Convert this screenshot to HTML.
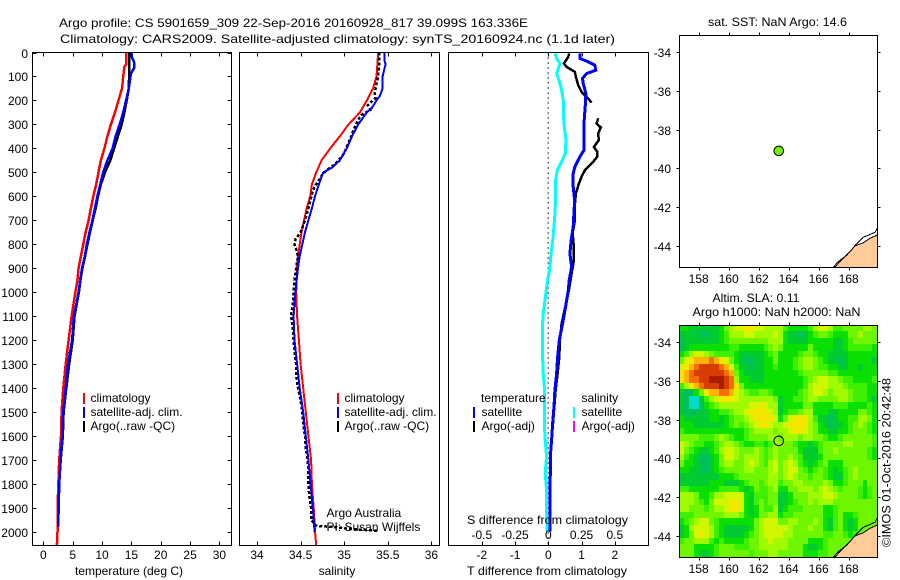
<!DOCTYPE html>
<html lang="en">
<head>
<meta charset="utf-8">
<title>Argo profile chart</title>
<style>
html,body{margin:0;padding:0;background:#fff;}
svg{display:block;}
text{font-family:"Liberation Sans",sans-serif;font-size:12px;fill:#000;}
.ln{fill:none;shape-rendering:crispEdges;stroke-linejoin:miter;}
.fr{fill:none;stroke:#000;stroke-width:1;shape-rendering:crispEdges;}
.bar{stroke-width:2;shape-rendering:crispEdges;}
</style>
</head>
<body>
<svg id="chart" xmlns="http://www.w3.org/2000/svg" width="900" height="580" viewBox="0 0 900 580">
  <rect x="0" y="0" width="900" height="580" fill="#fff"/>
  <text x="59" y="27" textLength="469" lengthAdjust="spacingAndGlyphs">Argo profile: CS 5901659_309 22-Sep-2016 20160928_817 39.099S 163.336E</text>
  <text x="60" y="43" textLength="555" lengthAdjust="spacingAndGlyphs">Climatology: CARS2009. Satellite-adjusted climatology: synTS_20160924.nc (1.1d later)</text>

  <g id="heat"></g>
  <g id="p1"></g>
  <g id="p2"></g>
  <g id="p3"></g>
  <g id="m1"></g>
  <g id="m2"></g>

  <g>
    <line class="bar" x1="84" x2="84" y1="393" y2="404" stroke="#f00"/>
    <text x="90.5" y="402">climatology</text>
    <line class="bar" x1="84" x2="84" y1="407" y2="418" stroke="#00f"/>
    <text x="90.5" y="416">satellite-adj. clim.</text>
    <line class="bar" x1="84" x2="84" y1="421" y2="432" stroke="#000"/>
    <text x="90.5" y="430">Argo(..raw -QC)</text>
  </g>
  <g>
    <line class="bar" x1="338" x2="338" y1="393" y2="404" stroke="#f00"/>
    <text x="344.5" y="402">climatology</text>
    <line class="bar" x1="338" x2="338" y1="407" y2="418" stroke="#00f"/>
    <text x="344.5" y="416">satellite-adj. clim.</text>
    <line class="bar" x1="338" x2="338" y1="421" y2="432" stroke="#000"/>
    <text x="344.5" y="430">Argo(..raw -QC)</text>
    <text x="326.5" y="517">Argo Australia</text>
    <text x="326.5" y="531">PI: Susan Wijffels</text>
  </g>
  <g>
    <text x="481" y="402">temperature</text>
    <line class="bar" x1="474" x2="474" y1="407" y2="418" stroke="#00f"/>
    <text x="481.5" y="416">satellite</text>
    <line class="bar" x1="474" x2="474" y1="421" y2="432" stroke="#000"/>
    <text x="481.5" y="430">Argo(-adj)</text>
    <text x="581.5" y="402">salinity</text>
    <line class="bar" x1="574" x2="574" y1="407" y2="418" stroke="#0ff"/>
    <text x="581.5" y="416">satellite</text>
    <line class="bar" x1="574" x2="574" y1="421" y2="432" stroke="#f0f"/>
    <text x="581.5" y="430">Argo(-adj)</text>
    <text x="467" y="524" textLength="161" lengthAdjust="spacingAndGlyphs">S difference from climatology</text>
  </g>

  <text x="129" y="575" text-anchor="middle">temperature (deg C)</text>
  <text x="337" y="575" text-anchor="middle">salinity</text>
  <text x="467" y="575" textLength="160" lengthAdjust="spacingAndGlyphs">T difference from climatology</text>
  <text x="708" y="26" textLength="139" lengthAdjust="spacingAndGlyphs">sat. SST: NaN Argo: 14.6</text>
  <text x="712.5" y="302" textLength="87" lengthAdjust="spacingAndGlyphs">Altim. SLA: 0.11</text>
  <text x="692.5" y="316" textLength="168" lengthAdjust="spacingAndGlyphs">Argo h1000: NaN h2000: NaN</text>
  <text transform="translate(890.5,547) rotate(-90)" textLength="169" lengthAdjust="spacingAndGlyphs">©IMOS 01-Oct-2016 20:42:48</text>
</svg>

<script>
// ---- Profile data ----
const depthTicks = [0,100,200,300,400,500,600,700,800,900,1000,1100,1200,1300,1400,1500,1600,1700,1800,1900,2000];
const tempTicks = [0,5,10,15,20,25,30];
const salTicks = [34,34.5,35,35.5,36];
const salTickLabels = ['34','34.5','35','35.5','36'];
const tDiffTicks = [-2,-1,0,1,2];
const sDiffTicks = [-0.5,-0.25,0,0.25,0.5];
const sDiffTickLabels = ['-0.5','-0.25','0','0.25','0.5'];

const climTDepth = [0,50,60,100,150,200,250,300,350,400,450,500,550,600,650,700,750,800,850,900,950,1000,1100,1200,1300,1400,1500,1600,1700,1800,1900,2000,2057];
const climT = [14.1,14.1,13.8,13.6,13.4,12.8,12.2,11.5,10.9,10.4,9.8,9.4,9.0,8.5,8.1,7.7,7.2,6.8,6.4,6.0,5.8,5.45,4.8,4.3,3.8,3.4,3.1,3.0,2.7,2.55,2.4,2.4,2.3];
const satTDepth = [0,20,40,65,90,150,200,250,300,350,400,450,500,550,600,650,700,750,800,850,900,950,1000,1100,1200,1300,1400,1500,1600,1700,1800,1900,1980];
const satT = [15.0,15.1,15.45,15.45,14.9,14.55,14.1,13.6,13.0,12.3,11.8,10.9,10.2,9.7,9.2,8.8,8.35,7.85,7.4,7.05,6.6,6.25,6.0,5.2,4.9,4.2,3.8,3.4,3.2,2.95,2.7,2.6,2.5];
const argoTDepth = [0,100,150,200,250,300,350,400,450,500,550,600,650,700,750,800,850,900,950,1000,1100,1200,1300,1400,1500,1600,1700,1800,1900,1980];
const argoT = [14.65,14.6,14.55,14.2,13.8,13.35,12.7,12.05,11.4,10.5,9.8,9.3,8.9,8.4,7.95,7.5,7.1,6.65,6.3,6.05,5.3,5.0,4.4,3.9,3.45,3.3,2.95,2.7,2.55,2.5];

const climSDepth = [0,100,150,200,250,300,350,400,450,500,550,600,650,700,750,800,850,900,1000,1100,1200,1300,1400,1500,1600,1700,1800,1900,2000,2057];
const climS = [35.39,35.37,35.33,35.26,35.18,35.05,34.95,34.84,34.74,34.68,34.63,34.61,34.57,34.54,34.51,34.49,34.47,34.46,34.45,34.46,34.48,34.50,34.53,34.56,34.59,34.62,34.63,34.65,34.665,34.68];
const satSDepth = [0,30,50,70,100,150,180,200,230,250,300,350,400,450,480,500,550,600,650,700,750,800,850,900,1000,1100,1200,1300,1400,1500,1600,1700,1800,1900,2000];
const satS = [35.46,35.46,35.475,35.46,35.44,35.44,35.41,35.37,35.32,35.26,35.16,35.09,35.03,34.95,34.86,34.76,34.71,34.665,34.63,34.59,34.55,34.52,34.49,34.47,34.44,34.42,34.43,34.46,34.49,34.53,34.56,34.59,34.615,34.64,34.66];
const argoSDepth = [0,50,100,130,170,190,220,240,260,280,330,350,420,440,470,490,510,560,590,620,650,700,750,780,800,820,850,900,950,1000,1050,1100,1150,1200,1250,1300,1350,1400,1450,1500,1550,1600,1650,1700,1750,1800,1850,1900,1950,1975,1980,1985,1990,1995];
const argoS = [35.40,35.40,35.39,35.37,35.35,35.36,35.27,35.30,35.20,35.16,35.10,35.08,35.0,34.96,34.88,34.80,34.75,34.66,34.63,34.61,34.59,34.55,34.50,34.44,34.43,34.45,34.47,34.45,34.43,34.42,34.41,34.39,34.41,34.42,34.43,34.45,34.45,34.47,34.50,34.52,34.53,34.55,34.56,34.58,34.59,34.59,34.60,34.62,34.62,34.68,34.9,35.0,35.15,35.38];

const diffSatTDepth = [4,25,39,53,74,88,108,129,171,227,282,366,408,435,477,505,560,616,672,727,783,839,894,950,992,1061,1131,1200,1270,1339,1409,1478,1548,1617,1687,1756,1826,1895,1999];
const diffSatT = [0.95,0.95,1.2,1.4,1.43,1.15,1.03,1.05,1.13,1.11,1.08,1.07,1.07,0.95,0.8,0.75,0.75,0.79,0.77,0.75,0.69,0.65,0.70,0.63,0.6,0.52,0.43,0.33,0.28,0.25,0.2,0.17,0.13,0.1,0.06,0.06,0.05,0.05,0.05];
const diffArgoTDepth = [4,18,46,60,81,102,136,164,178,192,209,null,275,296,313,338,366,394,414,435,456,491,519,547,588,644,700,755,811,866,922,992,1131,1200,1270,1339,1409,1548,1617,1687,1999];
const diffArgoT = [0.63,0.6,0.47,0.55,0.8,0.83,0.9,1.0,1.1,1.2,1.3,null,1.5,1.45,1.58,1.5,1.52,1.37,1.47,1.47,1.35,1.1,1.0,0.92,0.83,0.79,0.8,0.73,0.77,0.77,0.7,0.62,0.4,0.35,0.33,0.28,0.22,0.14,0.1,0.07,0.05];
const diffSatSDepth = [4,25,46,67,88,108,143,199,255,310,366,421,456,491,533,616,672,727,783,839,894,950,989,1033,1089,1131,1200,1270,1339,1409,1478,1548,1617,1687,1756,1826,1895,1999];
const diffSatS = [0.05,0.063,0.088,0.075,0.063,0.075,0.095,0.113,0.113,0.12,0.133,0.128,0.1,0.068,0.055,0.055,0.05,0.043,0.033,0.02,0.013,-0.005,-0.015,-0.025,-0.038,-0.043,-0.043,-0.043,-0.038,-0.028,-0.03,-0.03,-0.023,-0.013,-0.023,-0.013,-0.013,-0.01];

// ---- Map data ----
const lonTicks = [158,160,162,164,166,168];
const latTicks = [-34,-36,-38,-40,-42,-44];
const floatLon = [163.336];
const floatLat = [-39.099];
const landLon = [166.97,167.31,167.87,168.42,168.97,169.42,169.91,169.91];
const landLat = [-45.11,-44.83,-44.49,-44.02,-43.85,-43.62,-43.45,-45.11];
const shelfLon = [167.08,167.42,168.09,168.49,168.97,169.42,169.76,169.91];
const shelfLat = [-45.11,-44.83,-44.31,-43.93,-43.57,-43.42,-43.31,-43.07];

// SLA colour level per grid cell: 36 rows (north to south), 40 columns (west to east)
const slaRow00 = [3,3,2,2,2,2,2,2,3,5,6,7,7,8,8,7,7,6,6,6, 6,4,3,3,3,3,4,6,7,7,6,4,4,5,5,5,5,6,6,5];
const slaRow01 = [2,2,2,2,1,1,2,2,3,4,6,6,6,7,7,6,6,6,6,7, 6,3,2,2,1,2,3,4,5,5,4,3,3,3,5,5,6,5,5,5];
const slaRow02 = [1,2,2,2,2,2,2,2,3,4,5,5,5,5,5,5,5,5,6,6, 6,3,2,2,2,2,3,3,3,3,3,2,2,3,4,5,5,5,5,5];
const slaRow03 = [1,2,3,3,3,3,3,3,3,3,4,4,3,3,3,3,3,4,5,6, 5,3,3,3,3,3,5,3,3,3,3,2,2,3,4,4,4,4,4,3];
const slaRow04 = [3,4,6,7,7,6,5,4,4,4,4,3,2,2,2,2,2,3,4,5, 3,3,3,3,4,5,5,4,3,3,2,2,2,2,3,3,3,3,3,3];
const slaRow05 = [5,7,8,9,9,9,10,9,8,7,5,3,2,1,1,2,2,3,3,5, 3,3,3,4,5,6,6,5,4,3,2,2,1,2,3,3,3,3,3,2];
const slaRow06 = [7,8,9,10,11,11,11,11,10,9,7,4,2,2,1,2,2,3,3,4, 3,3,3,4,5,6,6,5,4,4,3,3,2,2,3,3,2,3,3,3];
const slaRow07 = [8,9,10,11,11,11,11,11,11,10,9,5,3,2,2,2,2,3,3,3, 3,3,3,3,4,5,5,5,5,5,4,4,3,3,3,3,3,3,3,3];
const slaRow08 = [8,9,10,10,11,11,12,12,12,11,10,6,3,3,2,2,2,3,3,3, 3,3,3,3,3,4,5,6,7,7,6,6,5,4,4,3,3,3,3,4];
const slaRow09 = [4,6,8,9,10,11,11,11,12,11,10,8,5,3,3,3,3,3,3,3, 3,3,3,3,3,4,6,7,7,7,6,6,6,5,4,4,4,4,3,3];
const slaRow10 = [2,1,1,3,5,8,9,9,10,10,9,7,6,5,4,4,5,5,4,3, 3,3,3,3,4,5,6,7,7,6,5,6,6,6,5,4,4,4,3,3];
const slaRow11 = [2,1,0,0,2,4,6,7,8,8,8,7,6,6,6,6,6,6,6,5, 2,3,3,4,4,5,6,6,5,5,5,5,6,6,5,4,4,4,3,2];
const slaRow12 = [2,1,0,0,1,3,4,5,6,6,6,6,6,6,7,7,8,7,6,6, 2,3,3,3,3,5,5,3,3,3,3,4,4,4,3,3,3,3,4,3];
const slaRow13 = [2,1,1,1,2,2,3,3,4,4,5,6,6,7,8,8,8,8,7,6, 2,3,4,4,5,6,6,3,3,3,2,2,3,3,3,3,5,5,4,3];
const slaRow14 = [3,2,2,2,2,2,3,3,2,3,4,5,5,6,7,8,8,8,8,7, 3,5,7,8,8,8,6,4,2,2,1,2,3,3,4,4,6,6,5,3];
const slaRow15 = [3,3,3,2,2,2,2,2,2,3,4,5,4,5,6,7,8,8,7,6, 6,7,8,8,8,8,6,5,3,2,1,2,2,3,4,5,6,5,4,3];
const slaRow16 = [4,3,3,3,3,3,3,3,3,3,3,3,3,4,5,6,6,6,6,5, 6,6,7,8,8,7,6,5,3,3,2,2,3,3,4,5,5,5,4,3];
const slaRow17 = [5,5,5,5,4,4,4,5,6,5,4,3,3,4,5,5,5,5,6,6, 5,6,6,6,5,6,6,5,5,4,3,3,4,5,5,5,5,5,5,4];
const slaRow18 = [7,6,5,4,4,3,3,4,5,6,6,5,4,3,3,4,4,3,4,6, 6,5,5,4,3,3,2,3,4,5,5,5,5,6,6,5,5,5,5,4];
const slaRow19 = [7,5,4,3,2,2,3,4,6,7,7,6,5,5,5,6,5,4,5,6, 5,5,5,5,3,2,2,2,4,5,5,6,5,5,5,5,5,5,4,3];
const slaRow20 = [6,4,3,2,1,1,2,3,5,7,7,6,5,6,6,6,5,4,5,6, 5,5,6,5,4,2,2,2,3,5,5,5,5,5,5,5,5,5,4,3];
const slaRow21 = [5,3,3,2,1,1,2,3,5,6,6,5,5,6,7,6,5,4,6,7, 5,6,7,6,4,3,2,3,4,5,3,3,3,5,5,5,5,5,5,5];
const slaRow22 = [3,3,2,2,1,1,2,3,4,5,5,5,5,6,6,5,5,5,6,7, 5,6,7,7,5,4,3,4,5,4,3,2,3,4,5,6,5,5,5,5];
const slaRow23 = [2,2,2,2,2,2,2,2,3,3,3,4,5,5,5,5,5,5,6,6, 5,6,7,6,5,5,4,5,5,4,3,2,2,4,5,6,5,5,5,5];
const slaRow24 = [2,2,2,2,2,2,3,3,3,2,2,2,3,4,5,5,4,5,6,6, 4,5,5,6,6,5,5,5,5,6,5,3,3,4,5,5,5,3,5,5];
const slaRow25 = [4,4,3,3,3,3,3,3,4,4,4,4,3,2,3,5,4,4,5,6, 3,3,5,5,6,6,6,5,6,7,6,5,4,5,5,5,4,3,4,5];
const slaRow26 = [6,6,6,5,3,3,4,6,6,7,7,7,7,3,2,4,4,4,5,5, 2,2,3,5,5,5,6,6,6,7,7,6,5,5,5,5,4,3,4,5];
const slaRow27 = [6,6,6,5,4,3,5,7,7,7,8,8,7,3,2,4,5,4,5,5, 2,2,3,4,5,5,6,5,6,6,6,5,5,5,5,5,5,5,5,5];
const slaRow28 = [6,6,5,5,5,4,5,6,6,7,8,8,7,3,2,3,5,4,4,6, 2,3,4,4,4,5,5,5,5,3,3,4,5,5,5,5,5,5,5,5];
const slaRow29 = [4,4,4,5,5,5,5,5,5,6,6,6,5,3,2,3,5,5,6,6, 3,4,4,5,5,5,5,5,5,3,3,4,5,3,3,4,5,5,5,5];
const slaRow30 = [3,4,5,6,7,7,5,4,3,3,3,3,3,3,3,5,6,7,7,7, 5,5,6,6,5,5,5,6,5,3,2,4,5,3,2,3,5,5,5,5];
const slaRow31 = [2,3,6,7,7,7,6,4,3,2,2,2,2,2,3,5,6,7,7,7, 7,7,6,5,5,5,6,5,5,3,2,4,5,3,2,3,5,5,5,5];
const slaRow32 = [2,3,5,7,8,7,6,4,3,2,2,2,2,3,4,5,6,7,7,7, 7,6,6,5,5,5,5,5,5,4,4,5,5,4,3,4,5,5,5,5];
const slaRow33 = [4,5,5,6,6,6,4,3,4,3,3,3,3,4,5,5,6,6,7,6, 6,6,5,5,5,5,3,3,3,4,5,5,5,5,5,5,5,5,5,5];
const slaRow34 = [5,5,5,3,3,3,3,4,5,5,5,4,4,4,5,5,6,6,6,6, 6,6,5,5,5,3,2,2,3,4,5,5,5,5,5,5,5,5,5,5];
const slaRow35 = [5,5,5,3,2,2,3,4,5,5,5,5,5,5,4,5,5,5,6,6, 5,5,5,5,5,3,3,3,4,4,5,5,5,5,5,5,5,5,5,5];
const slaGrid = [slaRow00,slaRow01,slaRow02,slaRow03,slaRow04,slaRow05,slaRow06,slaRow07,slaRow08,slaRow09,slaRow10,slaRow11,slaRow12,slaRow13,slaRow14,slaRow15,slaRow16,slaRow17,slaRow18,slaRow19,slaRow20,slaRow21,slaRow22,slaRow23,slaRow24,slaRow25,slaRow26,slaRow27,slaRow28,slaRow29,slaRow30,slaRow31,slaRow32,slaRow33,slaRow34,slaRow35];

// ---- Axis functions ----
const NS = 'http://www.w3.org/2000/svg';
const yDepth = d => 52.5 + d * 0.2397;
const xTemp = t => 43.4 + t * 5.867;
const xSal = s => 257 + (s - 34) * 87.2;
const xTDiff = t => 548.3 + t * 33.25;
const xSDiff = s => xTDiff(s * 4);
const xLon = lon => 698.7 + (lon - 158) * 15;
const yLat1 = lat => 52.3 + (-34 - lat) * 19.33;
const yLat2 = lat => 342.3 + (-34 - lat) * 19.33;
const slaColors = ['#00dcc8','#00c05a','#00cc32','#0ae000','#3cf000','#6ef500','#a0fa00','#d2f500','#f5e600','#ffb400','#f56e00','#d73c00','#aa1e00'];

function add(parent, tag, attrs, text) {
  const e = document.createElementNS(NS, tag);
  for (const k in attrs) e.setAttribute(k, attrs[k]);
  if (text !== undefined) e.textContent = text;
  parent.appendChild(e);
  return e;
}
function pointsOf(depths, values, xf) {
  const runs = [[]];
  depths.forEach((d, i) => {
    if (d === null || values[i] === null) { runs.push([]); return; }
    runs[runs.length - 1].push(xf(values[i]).toFixed(1) + ',' + yDepth(d).toFixed(1));
  });
  return runs.filter(r => r.length).map(r => r.join(' '));
}
function series(parent, depths, values, xf, color, name, width, dash) {
  pointsOf(depths, values, xf).forEach(pts => {
    const a = { points: pts, stroke: color, 'stroke-width': width, class: 'ln' };
    if (dash) a['stroke-dasharray'] = dash;
    const p = add(parent, 'polyline', a);
    
    
  });
}
function frame(parent, x, y, w, h) {
  const r = add(parent, 'rect', { x: x, y: y, width: w, height: h, class: 'fr' });
  
  
}
function tick(parent, x1, y1, x2, y2) {
  const t = add(parent, 'line', { x1: x1, y1: y1, x2: x2, y2: y2, stroke: '#000', 'shape-rendering': 'crispEdges' });
  
  
}
function label(parent, x, y, str, anchor) {
  const t = add(parent, 'text', { x: x, y: y, 'text-anchor': anchor }, str);
  
  
}
function xTicksInward(parent, ticks, labels, xf, top, bottom, labelY) {
  ticks.forEach((v, i) => {
    const x = Math.round(xf(v)) + 0.5;
    tick(parent, x, top, x, top + 4);
    tick(parent, x, bottom - 4, x, bottom);
    label(parent, xf(v), labelY, labels[i], 'middle');
  });
}

// ---- Temperature panel ----
const p1 = document.getElementById('p1');
series(p1, argoTDepth, argoT, xTemp, '#000', 'argo-temperature-line', 2.5);
series(p1, climTDepth, climT, xTemp, '#f00', 'climatology-temperature-line', 2.5);
series(p1, satTDepth, satT, xTemp, '#00f', 'satellite-temperature-line', 2.5);
frame(p1, 32.5, 52.5, 199, 493);
xTicksInward(p1, tempTicks, tempTicks.map(String), xTemp, 52.5, 545.5, 559);
depthTicks.forEach(d => {
  const y = Math.round(yDepth(d)) + 0.5;
  tick(p1, 32.5, y, 36.5, y);
  tick(p1, 227.5, y, 231.5, y);
  label(p1, 28, y + 4.5, String(d), 'end');
});

// ---- Salinity panel ----
const p2 = document.getElementById('p2');
series(p2, climSDepth, climS, xSal, '#f00', 'climatology-salinity-line', 2);
series(p2, argoSDepth, argoS, xSal, '#000', 'argo-salinity-line', 2.5, '3 2');
series(p2, satSDepth, satS, xSal, '#00f', 'satellite-salinity-line', 2);
frame(p2, 239.5, 52.5, 200, 493);
xTicksInward(p2, salTicks, salTickLabels, xSal, 52.5, 545.5, 559);

// ---- Difference panel ----
const p3 = document.getElementById('p3');
const zeroLine = add(p3, 'line', { x1: xTDiff(0), y1: 52.5, x2: xTDiff(0), y2: 545.5, stroke: '#000', 'stroke-width': 1.2, 'stroke-dasharray': '1 4', 'shape-rendering': 'crispEdges' });


series(p3, diffArgoTDepth, diffArgoT, xTDiff, '#000', 'argo-t-difference-line', 2.5);
series(p3, diffSatSDepth, diffSatS, xSDiff, '#0ff', 'satellite-s-difference-line', 3);
series(p3, diffSatTDepth, diffSatT, xTDiff, '#00f', 'satellite-t-difference-line', 3);
frame(p3, 448.5, 52.5, 200, 493);
xTicksInward(p3, tDiffTicks, tDiffTicks.map(String), xTDiff, 52.5, 545.5, 559);
sDiffTicks.forEach((v, i) => label(p3, xSDiff(v), 539, sDiffTickLabels[i], 'middle'));

// ---- Heatmap ----
const heat = document.getElementById('heat');
const gridLon0 = 156.71, gridLat0 = -33.1, gridStep = 1 / 3;
slaGrid.forEach((row, r) => {
  row.forEach((v, c) => {
    const x0 = Math.round(xLon(gridLon0 + c * 0.33));
    const x1 = Math.round(xLon(gridLon0 + (c + 1) * 0.33));
    const y0 = Math.round(yLat2(gridLat0 - r * gridStep));
    const y1 = Math.round(yLat2(gridLat0 - (r + 1) * gridStep));
    const cell = add(heat, 'rect', { x: x0, y: y0, width: x1 - x0, height: y1 - y0, fill: slaColors[v], 'shape-rendering': 'crispEdges' });
    
    
  });
});

// ---- Maps ----
function drawMap(id, yLat, top, bottom, tickLabelY, filled) {
  const g = document.getElementById(id);
  const land = add(g, 'polygon', { points: landLon.map((v, i) => xLon(v).toFixed(1) + ',' + yLat(landLat[i]).toFixed(1)).join(' '), fill: '#ffcc99', stroke: 'none' });
  
  
  const coast = add(g, 'polyline', { points: landLon.slice(0, 7).map((v, i) => xLon(v).toFixed(1) + ',' + yLat(landLat[i]).toFixed(1)).join(' '), fill: 'none', stroke: '#000', 'stroke-width': 1, 'shape-rendering': 'crispEdges' });
  
  
  const shelf = add(g, 'polyline', { points: shelfLon.map((v, i) => xLon(v).toFixed(1) + ',' + yLat(shelfLat[i]).toFixed(1)).join(' '), fill: 'none', stroke: '#000', 'stroke-width': 1, 'shape-rendering': 'crispEdges' });
  
  
  frame(g, 679.5, top, 198, bottom - top);
  lonTicks.forEach(v => {
    const x = Math.round(xLon(v)) + 0.5;
    tick(g, x, top - 3, x, top);
    tick(g, x, bottom, x, bottom + 3);
    label(g, xLon(v), tickLabelY, String(v), 'middle');
  });
  latTicks.forEach(v => {
    const y = Math.round(yLat(v)) + 0.5;
    tick(g, 676.5, y, 679.5, y);
    tick(g, 877.5, y, 880.5, y);
    label(g, 671, y + 4.5, String(v), 'end');
  });
  const marker = add(g, 'circle', { cx: xLon(floatLon[0]), cy: yLat(floatLat[0]), r: 4.8, fill: filled ? '#78f000' : 'none', stroke: '#000', 'stroke-width': 1 });
  
  
}
drawMap('m1', yLat1, 35.5, 267.5, 283, true);
drawMap('m2', yLat2, 325.5, 557.5, 573, false);
</script>
</body>
</html>
